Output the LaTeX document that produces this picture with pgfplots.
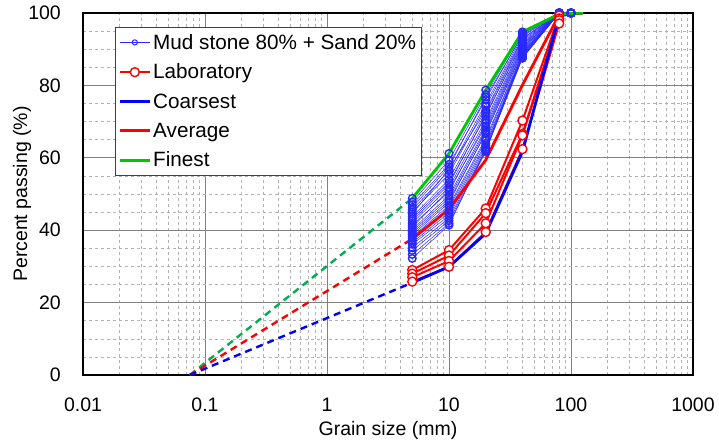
\documentclass[border=0pt]{standalone}
\usepackage{fontspec}
\setmainfont{Liberation Sans}
\usepackage{pgfplots}
\pgfplotsset{compat=1.18}
\definecolor{mudblue}{RGB}{40,40,255}
\definecolor{fgreen}{RGB}{0,200,0}
\definecolor{dgreen}{RGB}{0,176,80}
\definecolor{cblue}{RGB}{0,0,255}
\definecolor{cred}{RGB}{255,0,0}

\pgfplotsset{
  mud/.style={color=mudblue, line width=0.5bp, mark=o, mark size=3.8bp, mark options={line width=1.4bp, solid}},
  lab/.style={color=cred, line width=2bp, mark=*, mark size=4.5bp, mark options={line width=1.4bp, fill=white, draw=cred, solid}},
  envl/.style={line width=2.8bp, no marks},
  ext/.style={line width=2.4bp, dash pattern=on 7bp off 5bp, no marks, forget plot},
}

\begin{document}
\begin{tikzpicture}
\begin{axis}[
  at={(0,0)}, anchor=south west,
  scale only axis, width=610bp, height=362bp,
  xmode=log, xmin=0.01, xmax=1000, ymin=0, ymax=100,
  xtick={0.01,0.1,1,10,100,1000},
  xticklabels={0.01,0.1,1,10,100,1000},
  minor xtick={0.02,0.03,0.04,0.05,0.06,0.07,0.08,0.09,0.2,0.3,0.4,0.5,0.6,0.7,0.8,0.9,2,3,4,5,6,7,8,9,20,30,40,50,60,70,80,90,200,300,400,500,600,700,800,900},
  ytick={0,20,40,60,80,100},
  minor ytick={5,10,15,25,30,35,45,50,55,65,70,75,85,90,95},
  grid=both,
  major grid style={color=black!50, line width=0.7bp},
  minor grid style={color=black!30, line width=0.5bp, dash pattern=on 3bp off 3bp},
  axis line style={line width=1.8bp},
  tick style={draw=none},
  /pgf/number format/assume math mode=true,
  ticklabel style={font=\fontsize{19.5bp}{23bp}\selectfont, inner sep=0pt},
  xticklabel shift=23bp, yticklabel shift=22bp,
  xlabel={Grain size (mm)}, ylabel={Percent passing (\%)},
  label style={font=\fontsize{19.5bp}{23bp}\selectfont},
  xlabel style={at={(axis description cs:0.5,-0.152)}, anchor=center, inner sep=0pt},
  ylabel style={at={(axis description cs:-0.1,0.5)}, anchor=center, inner sep=0pt},
  legend style={at={(axis description cs:0.0525,0.962)}, anchor=north west,
    font=\fontsize{20.7bp}{24bp}\selectfont, draw=black!75, line width=0.8bp,
    row sep=9.3bp, inner xsep=3bp, inner ysep=5bp, cells={anchor=west}},
  legend image code/.code={\draw[mark repeat=2,mark phase=2,#1] plot coordinates {(0bp,0bp) (15bp,0bp) (30bp,0bp)};},
]
% dashed extrapolations
\addplot[ext, color=dgreen] coordinates {(0.075,0) (5,48.8)};
\addplot[ext, color=cred] coordinates {(0.075,0) (5,37.6)};
\addplot[ext, color=cblue] coordinates {(0.075,0) (5,25.5)};

% Mud stone 80% + Sand 20%
\addplot[mud, legend image post style={mark size=2.6bp, mark options={line width=1bp}}] coordinates {(5,48.8) (10,61.2) (20,78.7) (40,94.8) (80,100) (100,100)};
\addlegendentry{Mud stone 80\% + Sand 20\%}
\addplot[mud, forget plot] coordinates {(5,47.8) (10,59.3) (20,77.5) (40,94.6) (80,100) (100,100)};
\addplot[mud, forget plot] coordinates {(5,47.0) (10,58.2) (20,76.1) (40,94.2) (80,100) (100,100)};
\addplot[mud, forget plot] coordinates {(5,46.3) (10,57.5) (20,76.8) (40,93.8) (80,100) (100,100)};
\addplot[mud, forget plot] coordinates {(5,45.6) (10,56.4) (20,75.0) (40,93.5) (80,100) (100,100)};
\addplot[mud, forget plot] coordinates {(5,45.0) (10,55.5) (20,74.2) (40,93.0) (80,100) (100,100)};
\addplot[mud, forget plot] coordinates {(5,44.5) (10,56.8) (20,73.1) (40,92.8) (80,100) (100,100)};
\addplot[mud, forget plot] coordinates {(5,43.8) (10,54.0) (20,72.6) (40,92.4) (80,100) (100,100)};
\addplot[mud, forget plot] coordinates {(5,43.2) (10,53.2) (20,71.5) (40,92.0) (80,100) (100,100)};
\addplot[mud, forget plot] coordinates {(5,42.6) (10,52.6) (20,72.0) (40,91.6) (80,100) (100,100)};
\addplot[mud, forget plot] coordinates {(5,42.0) (10,51.8) (20,70.4) (40,91.3) (80,100) (100,100)};
\addplot[mud, forget plot] coordinates {(5,41.4) (10,50.6) (20,69.6) (40,91.0) (80,100) (100,100)};
\addplot[mud, forget plot] coordinates {(5,40.8) (10,51.2) (20,68.8) (40,90.6) (80,100) (100,100)};
\addplot[mud, forget plot] coordinates {(5,40.2) (10,49.6) (20,68.1) (40,90.3) (80,100) (100,100)};
\addplot[mud, forget plot] coordinates {(5,39.7) (10,48.9) (20,67.5) (40,90.0) (80,100) (100,100)};
\addplot[mud, forget plot] coordinates {(5,39.2) (10,48.2) (20,66.6) (40,89.6) (80,100) (100,100)};
\addplot[mud, forget plot] coordinates {(5,38.7) (10,47.6) (20,67.0) (40,89.2) (80,100) (100,100)};
\addplot[mud, forget plot] coordinates {(5,38.2) (10,46.8) (20,65.4) (40,88.9) (80,100) (100,100)};
\addplot[mud, forget plot] coordinates {(5,37.7) (10,46.2) (20,64.8) (40,88.6) (80,100) (100,100)};
\addplot[mud, forget plot] coordinates {(5,37.2) (10,45.5) (20,64.0) (40,88.2) (80,100) (100,100)};
\addplot[mud, forget plot] coordinates {(5,36.6) (10,44.8) (20,63.4) (40,88.0) (80,100) (100,100)};
\addplot[mud, forget plot] coordinates {(5,36.1) (10,44.0) (20,62.8) (40,87.8) (80,100) (100,100)};
\addplot[mud, forget plot] coordinates {(5,35.2) (10,43.3) (20,62.2) (40,87.6) (80,100) (100,100)};
\addplot[mud, forget plot] coordinates {(5,34.4) (10,42.6) (20,61.9) (40,87.5) (80,100) (100,100)};
\addplot[mud, forget plot] coordinates {(5,33.3) (10,41.9) (20,61.7) (40,88.4) (80,100) (100,100)};
\addplot[mud, forget plot] coordinates {(5,32.2) (10,41.4) (20,62.4) (40,89.0) (80,100) (100,100)};

% Laboratory
\addplot[lab] coordinates {(5,29.0) (10,34.5) (20,46.0) (40,70.3) (80,99.3)};
\addlegendentry{Laboratory}
\addplot[lab, forget plot] coordinates {(5,28.0) (10,33.0) (20,44.7) (40,66.6) (80,98.5)};
\addplot[lab, forget plot] coordinates {(5,27.0) (10,31.5) (20,41.9) (40,66.2) (80,98.0)};
\addplot[lab, forget plot] coordinates {(5,25.8) (10,29.9) (20,39.5) (40,62.4) (80,97.1)};

% envelopes
\addplot[envl, color=cblue] coordinates {(5,25.5) (10,29.9) (20,39.1) (40,61.7) (80,99.3) (125,100)};
\addlegendentry{Coarsest}
\addplot[envl, color=cred] coordinates {(5,37.6) (10,45.8) (20,59.4) (40,80.1) (80,99.5) (125,100)};
\addlegendentry{Average}
\addplot[envl, color=fgreen] coordinates {(5,48.8) (10,61.2) (20,78.7) (40,94.8) (80,99.7) (125,100)};
\addlegendentry{Finest}
\end{axis}
\pgfresetboundingbox
\path (-83bp,-68bp) rectangle (636bp,375bp);
\end{tikzpicture}
\end{document}
